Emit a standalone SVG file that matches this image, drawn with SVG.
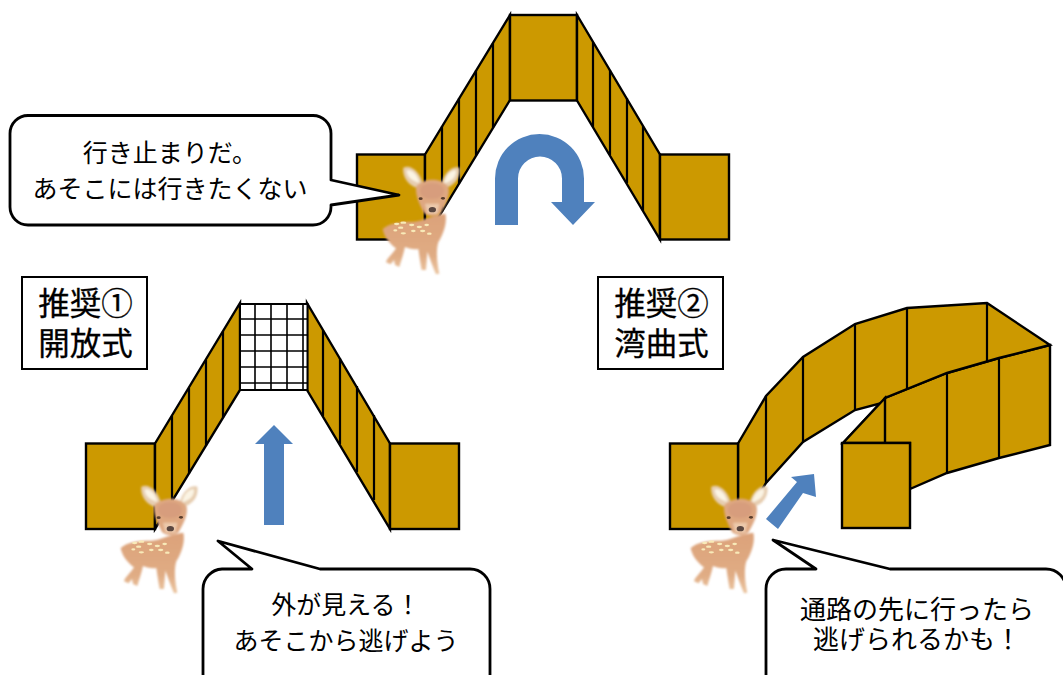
<svg xmlns="http://www.w3.org/2000/svg" width="1063" height="675" viewBox="0 0 1063 675">
<style>
.w{fill:#cc9900;stroke:#000;stroke-width:2.4;stroke-linejoin:miter}
.l{fill:none;stroke:#000;stroke-width:2.2}
.a{fill:#4f81bd}
.c{fill:#fff;stroke:#000;stroke-width:2.8;stroke-linejoin:round}
.b{fill:#fff;stroke:#000;stroke-width:2}
text{font-family:"Noto Sans CJK JP","Noto Sans",sans-serif;fill:#000;text-anchor:middle}
.t{font-size:25px}
.r{font-size:26px}
.h{font-size:31.500px;stroke:#000;stroke-width:.3}
.g{fill:none;stroke:#000;stroke-width:1.6}
</style>
<defs>
<linearGradient id="fur" x1="0" y1="0" x2="0" y2="1"><stop offset="0" stop-color="#dca27a"/><stop offset=".7" stop-color="#e0ac84"/><stop offset="1" stop-color="#ebc6a2"/></linearGradient>
<filter id="soft" x="-10%" y="-10%" width="120%" height="120%"><feGaussianBlur stdDeviation="2.4"/></filter>
<filter id="softer" x="-20%" y="-20%" width="140%" height="140%"><feGaussianBlur stdDeviation="1.4"/></filter>
<g id="deer" transform="translate(370 155) scale(.3333)">
<g filter="url(#soft)">
<path d="M100 38C122 26 152 52 160 92L140 98C116 92 96 66 100 38Z" fill="#e6cdb0"/>
<path d="M268 38C246 32 220 55 214 92L234 96C258 86 272 64 268 38Z" fill="#e6cdb0"/>
<path d="M110 46C128 42 144 62 148 84C126 78 110 66 110 46Z" fill="#fbf4e4"/>
<path d="M258 46C242 44 226 62 222 86C246 78 260 66 258 46Z" fill="#fbf4e4"/>
<path d="M38 222C55 205 90 200 130 200C160 198 185 180 226 176C232 200 222 235 205 262C198 285 200 320 208 356L198 358C188 335 180 310 172 290L168 345L155 345C150 320 148 300 145 282C130 285 115 280 105 276C100 300 92 320 88 336L75 330L72 315L62 328L48 322C50 310 70 295 78 280C58 265 42 245 38 222Z" fill="url(#fur)"/>
<path d="M138 95C160 68 218 66 236 98C240 125 226 150 212 174C196 186 174 186 162 174C150 150 136 125 138 95Z" fill="#dea781"/>
<ellipse cx="186" cy="108" rx="36" ry="24" fill="#d2967a" opacity=".55"/>
<path d="M165 146L208 146L202 176L172 176Z" fill="#ecc9ab"/>
</g>
<g filter="url(#softer)">
<ellipse cx="152" cy="131" rx="6" ry="4" fill="#5a3d2c"/>
<ellipse cx="219" cy="130" rx="6" ry="4" fill="#5a3d2c"/>
<ellipse cx="187" cy="164" rx="11" ry="8" fill="#5a4640"/>
<g fill="#f8eab8">
<ellipse cx="80" cy="207" rx="8" ry="3.500"/><ellipse cx="100" cy="203" rx="9" ry="3.500"/><ellipse cx="125" cy="210" rx="8" ry="3.500"/><ellipse cx="148" cy="216" rx="8" ry="3.500"/><ellipse cx="170" cy="210" rx="7" ry="3.500"/><ellipse cx="92" cy="218" rx="8" ry="3.500"/><ellipse cx="100" cy="235" rx="8" ry="3.500"/><ellipse cx="130" cy="228" rx="7" ry="3.500"/><ellipse cx="158" cy="228" rx="8" ry="3.500"/><ellipse cx="178" cy="236" rx="7" ry="3.500"/><ellipse cx="76" cy="226" rx="6" ry="3.500"/>
</g>
</g>
</g>
</defs>

<g id="connectors">
<path class="a" d="M495 225V178.500A44.500 44.500 0 0 1 584 178.500V202H595L573 225L551 202H562V178.500A22 22 0 0 0 518 178.500V225Z"/>
<path class="a" d="M264 525V444H255L274 425L293 444H284V525Z"/>
<path class="a" d="M766 519L778 529L803 493L816 497L814 474L791 477L797 482Z"/>
</g>

<g id="dead-end-passage">
<rect class="w" x="357" y="154.500" width="68" height="85"/>
<path class="w" d="M425 154.500L510 15V100L425 239.500Z"/>
<path class="l" d="M442 126V212M459 98V184M476 70V156M493 43V128"/>
<rect class="w" x="510" y="15" width="67" height="85.500"/>
<path class="w" d="M577 15L660 154.500V239.500L577 100.500Z"/>
<path class="l" d="M593 42V127M610 70V155M627 98V183M643 126V211"/>
<rect class="w" x="660" y="154.500" width="69" height="85"/>
</g>

<g id="open-passage">
<rect class="w" x="86" y="443.500" width="69" height="85.500"/>
<path class="w" d="M155 443.500L240 303V390L155 529Z"/>
<path class="l" d="M172 416V502M189 388V474M206 360V446M223 331V418"/>
<path class="w" d="M307 303L390 443.500V529L307 390Z"/>
<path class="l" d="M323 330V416M340 358V444M357 386V472M374 415V500"/>
<rect x="240" y="304" width="67.500" height="86" fill="#fff" stroke="#000" stroke-width="2"/>
<path class="g" d="M255 304V390M271 304V390M287 304V390M303 304V390M240 319H307M240 335H307M240 351H307M240 367H307M240 383H307"/>
<rect class="w" x="390" y="443.500" width="69" height="85.500"/>
</g>

<g id="curved-passage">
<path class="w" d="M885 443L843 443L885 398L947 373L999 358L1050 345V445L999 458L947 473L910 489V443Z"/>
<path class="l" d="M947 373V473M999 358V458"/>
<path class="w" d="M738 443.500L766 396L803 357L855 324L907 308L987 303L1050 345L999 358L947 373L885 398L882 403L855 410L803 442L766 483L738 529Z"/>
<path class="l" d="M766 396V483M803 357V442M855 324V410M907 308V389M987 303V361"/>
<path class="w" d="M885 398L843 443H885Z"/>
<rect class="w" x="670" y="443.500" width="68" height="85.500"/>
<rect class="w" x="842" y="443" width="68" height="85"/>
</g>

<g id="callout-dead-end">
<path class="c" d="M28 115.500H313A18 18 0 0 1 331 133.500V180L399 195L331 205V207A18 18 0 0 1 313 225H28A18 18 0 0 1 10 207V133.500A18 18 0 0 1 28 115.500Z"/>
<text class="t" x="170" y="162">行き止まりだ。</text>
<text class="t" x="170" y="198">あそこには行きたくない</text>
</g>
<g id="callout-open">
<path class="c" d="M222 569H252L218 541L320 569H470A20 20 0 0 1 490 589V690H203V589A20 20 0 0 1 222 569Z"/>
<text class="t" x="346" y="614">外が見える！</text>
<text class="t" x="346" y="650">あそこから逃げよう</text>
</g>
<g id="callout-curved">
<path class="c" d="M786 569H816L773 540L890 569H1046A20 20 0 0 1 1066 589V690H766V589A20 20 0 0 1 786 569Z"/>
<text class="r" x="917" y="619">通路の先に行ったら</text>
<text class="r" x="917" y="649">逃げられるかも！</text>
</g>

<g id="label-open">
<rect class="b" x="22" y="277" width="125" height="92"/>
<text class="h" x="85.500" y="315">推奨①</text>
<text class="h" x="85.500" y="355">開放式</text>
</g>
<g id="label-curved">
<rect class="b" x="598" y="277" width="125" height="92"/>
<text class="h" x="661.500" y="315">推奨②</text>
<text class="h" x="661.500" y="355">湾曲式</text>
</g>

<g id="deer-dead-end"><use href="#deer"/></g>
<g id="deer-open"><use href="#deer" x="-262" y="319"/></g>
<g id="deer-curved"><use href="#deer" x="308" y="319"/></g>
</svg>
